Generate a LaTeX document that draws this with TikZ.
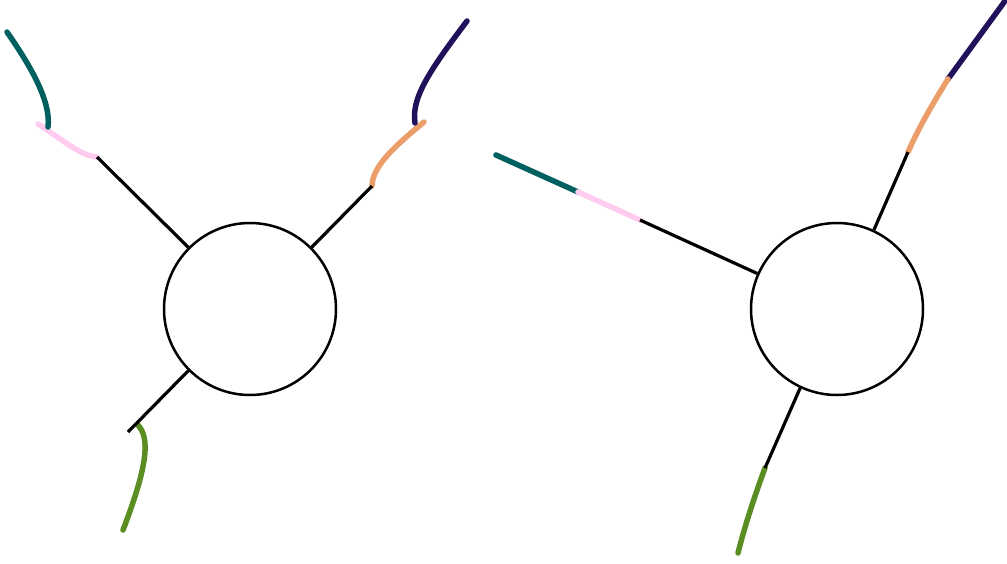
\documentclass[tikz,border=0pt]{standalone}
\begin{document}
\begin{tikzpicture}[x=1pt,y=-1pt,
  blob/.style={circle,draw=black,line width=2.5pt,minimum size=172pt,inner sep=0pt},
  legline/.style={draw=black,line width=3.2pt},
  cseg/.style={line width=5.5pt,line cap=round}]
\definecolor{cteal}{HTML}{006060}
\definecolor{cpink}{HTML}{FFCCF0}
\definecolor{cnavy}{HTML}{20115A}
\definecolor{corange}{HTML}{EB9D6A}
\definecolor{cgreen}{HTML}{5B8E22}
\useasboundingbox (0,0) rectangle (1007,563);
% left diagram
\node[blob] (L) at (250,309) {};
\coordinate (La) at (97,157);
\coordinate (Lb) at (372,186);
\coordinate (Lc) at (128,432);
\draw[cseg,cpink] (38,124) .. controls (62,139) and (80,156) .. (La);
\draw[cseg,cteal] (48,127) .. controls (51,102) and (32,68) .. (7,32);
\draw[cseg,corange] (424,122) .. controls (400,142) and (372,165) .. (Lb);
\draw[cseg,cnavy] (415,123) .. controls (411,98) and (430,70) .. (467,21);
\draw[cseg,cgreen] (138,425) .. controls (150,438) and (148,465) .. (123,530);
\draw[legline] (L.135) -- (La);
\draw[legline] (L.45) -- (Lb);
\draw[legline] (L.225) -- (Lc);
% right diagram
\node[blob] (R) at (837,309) {};
\coordinate (Ra) at (640,220);
\coordinate (Ra2) at (578,192);
\coordinate (Ra3) at (496,155);
\coordinate (Rb) at (908,152);
\coordinate (Rb2) at (948,79);
\coordinate (Rb3) at (1005,1);
\coordinate (Rc) at (765,468);
\coordinate (Rc2) at (738,553);
\draw[cseg,cteal] (Ra3) -- (Ra2);
\draw[cseg,cpink] (Ra2) -- (Ra);
\draw[cseg,cnavy] (Rb2) -- (Rb3);
\draw[cseg,corange] (Rb) .. controls (920,125) and (935,100) .. (Rb2);
\draw[cseg,cgreen] (Rc) .. controls (755,495) and (745,525) .. (Rc2);
\draw[legline] (R.156) -- (Ra);
\draw[legline] (R.65.7) -- (Rb);
\draw[legline] (R.245.6) -- (Rc);
\end{tikzpicture}
\end{document}
